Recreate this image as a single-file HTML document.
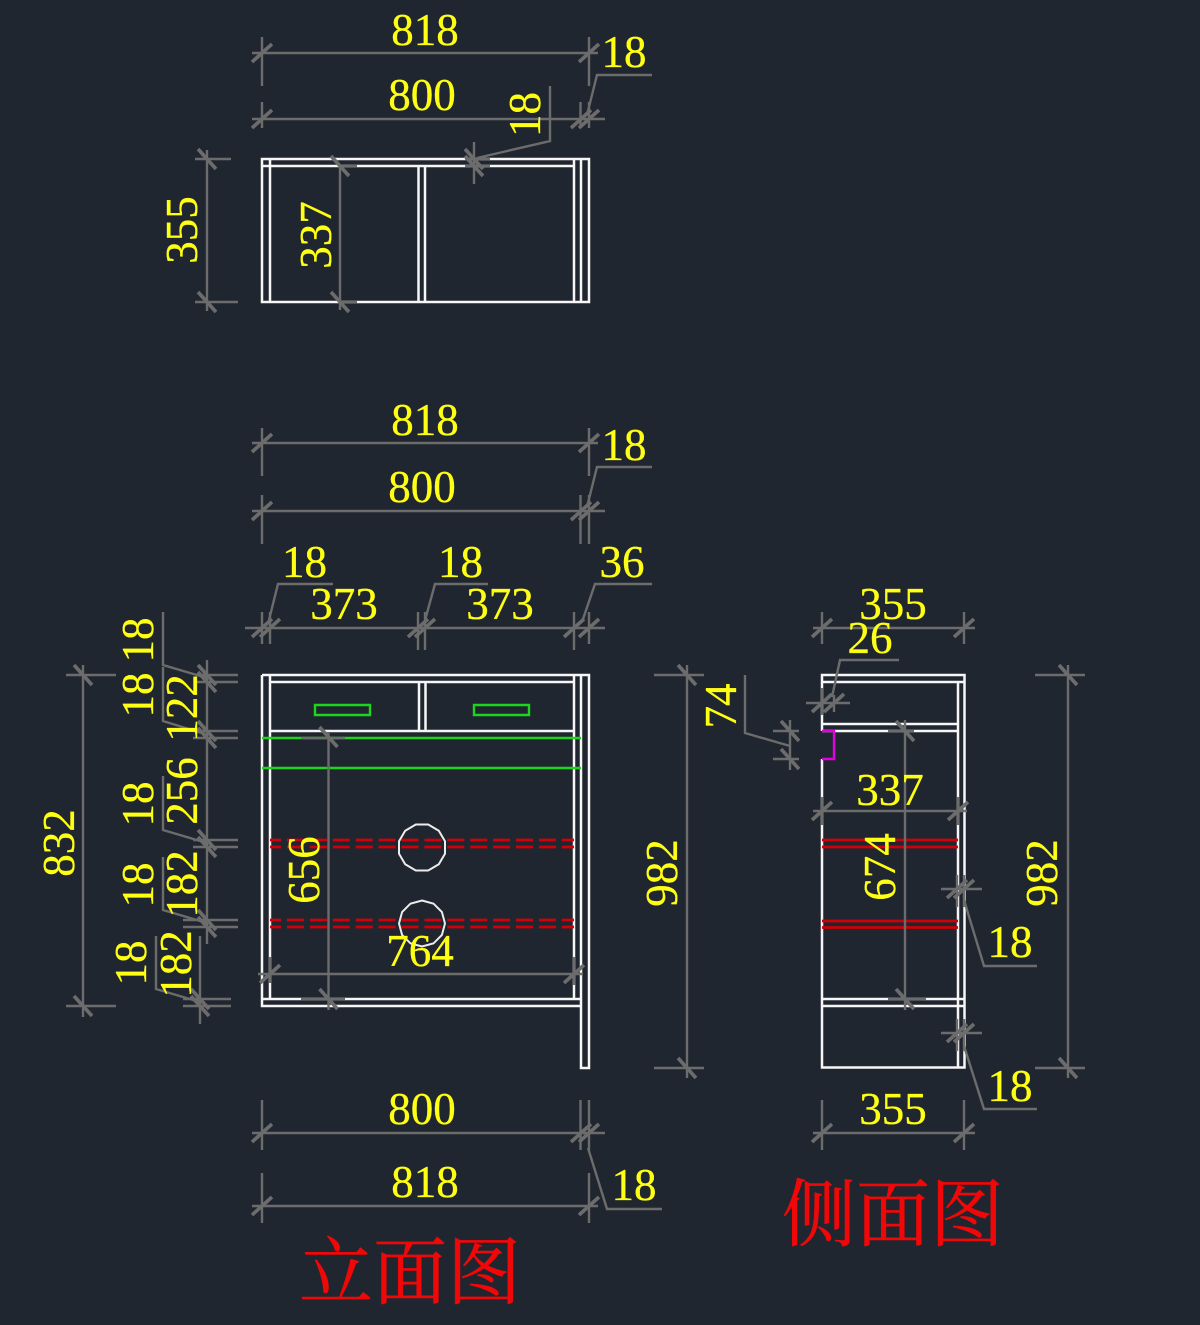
<!DOCTYPE html>
<html lang="zh">
<head>
<meta charset="utf-8">
<title>Cabinet drawing</title>
<style>
html,body{margin:0;padding:0;background:#20262f;}
svg{display:block;}
.w{stroke:#f6f6f6;stroke-width:2.5;fill:none;}
.o{stroke:#ececec;stroke-width:2;fill:none;}
.g{stroke:#6c6c6c;stroke-width:2.4;fill:none;}
.t{stroke:#6c6c6c;stroke-width:3.6;fill:none;}
.r{stroke:#d00008;stroke-width:2.8;fill:none;}
.d{stroke:#d00008;stroke-width:2.8;fill:none;stroke-dasharray:17 5.9;stroke-dashoffset:5.9;}
.n{stroke:#1ed51e;stroke-width:2.4;fill:none;}
.m{stroke:#e000e0;stroke-width:2.4;fill:none;}
text{font-family:"Liberation Serif",serif;font-size:45px;fill:#ffff14;stroke:#ffff14;stroke-width:.3;text-anchor:middle;}
text.c{font-family:"Liberation Serif","Noto Serif CJK SC",serif;font-size:74px;fill:#f00808;stroke:#f00808;stroke-width:.5;}
</style>
</head>
<body>
<svg xmlns="http://www.w3.org/2000/svg" width="1200" height="1325" viewBox="0 0 1200 1325">
<rect width="1200" height="1325" fill="#20262f"/>

<!-- TOP VIEW -->
<path class="w" d="M262 159H589V302H262Z M262 166H574 M270 159V302 M418.500 166V302 M425 166V302 M574 159V302 M581 159V302"/>

<!-- FRONT VIEW -->
<path class="w" d="M262 675H589V1068H581V675 M262 675V1006H581 M262 999H581 M270 675V999 M574 675V999 M270 682H574 M270 731H574 M419 682V731 M425.500 682V731"/>
<path class="n" d="M315 705H370V715H315Z M474 705H529V715H474Z M262 738H581 M262 768H581"/>
<path class="d" d="M270 840H574 M270 847H574 M270 920H574 M270 927H574"/>
<path class="o" d="M428.200 824.500L438.800 830.700L445 841.300V853.700L438.800 864.300L428.200 870.500H415.800L405.200 864.300L399 853.700V841.300L405.200 830.700L415.800 824.500Z"/>
<path class="o" d="M422 900.500L433.500 903.600L441.900 912L445 923.500L441.900 935L433.500 943.400L422 946.500L410.500 943.400L402.100 935L399 923.500L402.100 912L410.500 903.600Z"/>

<!-- SIDE VIEW -->
<path class="w" d="M822 731V675H964.500V1067.500H822V759 M822 682H964.500 M958 682V1067.500 M822 724H958 M822 731H958 M822 999H964.500 M822 1006H964.500"/>
<path class="m" d="M822 731H834V759H822"/>
<path class="r" d="M822 840H958 M822 847H958 M822 921H958 M822 927.500H958"/>

<!-- DIMENSION LINES -->
<path class="g" d="
M252 53H598 M262 37V86 M589 37V86
M252 119H605 M262 102V128 M580.500 102V128 M589 102V128
M587 115L597 75H652
M477 158L550 141V86
M474 142V184 M465 159H490 M465 166H490
M340 166V310 M340 166H357 M340 302H357
M207 150V311 M195 159H231 M195 302H238

M252 443H598 M262 428V476 M589 428V476
M252 511H605 M262 495V544 M580.500 495V544 M589 495V544
M587 507L597 467H652
M245 628H605 M262 612V644 M270 612V644 M418 612V650 M425 612V650 M574 612V650 M589 612V644
M268 624L278 584H333
M424 624L435 584H488
M582 622L595 584H652

M83 665V1017 M66 675H116 M66 1006H116
M207 660V944 M200 936V1024
M195 675H238 M195 682H238 M193 731H238 M193 738H238 M193 840H238 M193 847H238 M183 920H238 M183 927H238 M183 999H231 M183 1006H231
M163 612V665L207 678
M163 667V721L205 734
M163 776V830L207 843
M163 857V910L207 923
M156 936V989L200 1002
M328.500 733V1010 M301 738H345 M301 999H345
M258 974H583 M270 957V983 M574 957V985

M687 665V1078 M654 675H704 M654 1068H704
M790 720V770 M773 731H799 M773 759H799
M745 675V733L790 746

M813 628H975 M822 612V644 M964 612V644
M806 703H850 M822 688V715 M834 695V712
M832 697L840 660H899
M813 811H967 M822 797V825 M958 797V825
M905 720V1010 M888 731H914 M888 999H926
M941 889H982 M957 875V907 M964 875V907
M964 900L984 966H1037
M941 1033H982 M957 1019V1051 M964 1019V1051
M964 1046L984 1109H1037
M813 1133H975 M822 1100V1150 M964 1100V1150
M1068 665V1078 M1035 675H1085 M1035 1068H1085

M252 1133H605 M262 1100V1150 M580.500 1100V1150 M589 1100V1150
M252 1206H598 M262 1173V1223 M589 1173V1223
M588 1148L607 1209H662
"/>

<!-- TICKS -->
<path class="t" d="
M252 62l20-18 M579 62l20-18
M252 128l20-18 M571 128l20-18 M579 128l20-18
M465 149l18 20 M465 156l18 20
M331 156l18 20 M331 292l18 20
M198 149l18 20 M198 292l18 20

M252 452l20-18 M579 452l20-18
M252 520l20-18 M571 520l20-18 M579 520l20-18
M252 637l20-18 M260 637l20-18 M408 637l20-18 M415 637l20-18 M564 637l20-18 M579 637l20-18

M74 665l18 20 M74 996l18 20
M198 665l18 20 M198 672l18 20 M198 721l18 20 M198 728l18 20 M198 830l18 20 M198 837l18 20 M198 910l18 20 M198 917l18 20 M191 989l18 20 M191 996l18 20
M319.500 727l18 20 M319.500 989l18 20
M260 983l20-18 M564 983l20-18

M678 665l18 20 M678 1058l18 20
M781 721l18 20 M781 749l18 20

M812 637l20-18 M954 637l20-18
M812 712l20-18 M824 712l20-18
M812 820l20-18 M948 820l20-18
M896 721l18 20 M896 989l18 20
M947 898l20-18 M954 898l20-18
M947 1042l20-18 M954 1042l20-18
M812 1142l20-18 M954 1142l20-18
M1059 665l18 20 M1059 1058l18 20

M252 1142l20-18 M571 1142l20-18 M579 1142l20-18
M252 1215l20-18 M579 1215l20-18
"/>

<!-- LABELS -->
<text x="425" y="45">818</text>
<text x="624" y="67">18</text>
<text x="422" y="110">800</text>
<text transform="translate(540,114.500) rotate(-90)">18</text>
<text transform="translate(331,235) rotate(-90)">337</text>
<text transform="translate(197,230) rotate(-90)">355</text>

<text x="425" y="435">818</text>
<text x="624" y="460">18</text>
<text x="422" y="502">800</text>
<text x="304.500" y="577">18</text>
<text x="344" y="619">373</text>
<text x="460.500" y="577">18</text>
<text x="500" y="619">373</text>
<text x="622" y="577">36</text>

<text transform="translate(153,640) rotate(-90)">18</text>
<text transform="translate(153,695) rotate(-90)">18</text>
<text transform="translate(197,708) rotate(-90)">122</text>
<text transform="translate(74,843) rotate(-90)">832</text>
<text transform="translate(153,804) rotate(-90)">18</text>
<text transform="translate(197,791) rotate(-90)">256</text>
<text transform="translate(153,885) rotate(-90)">18</text>
<text transform="translate(197,884) rotate(-90)">182</text>
<text transform="translate(146,963) rotate(-90)">18</text>
<text transform="translate(191,964) rotate(-90)">182</text>
<text transform="translate(319,870) rotate(-90)">656</text>
<text x="420" y="966">764</text>

<text transform="translate(677,873) rotate(-90)">982</text>
<text transform="translate(736,706) rotate(-90)">74</text>
<text x="893" y="619">355</text>
<text x="870" y="653">26</text>
<text x="890" y="805">337</text>
<text transform="translate(895,867) rotate(-90)">674</text>
<text transform="translate(1057,873) rotate(-90)">982</text>
<text x="1010" y="957">18</text>
<text x="1010" y="1101">18</text>
<text x="893" y="1124">355</text>

<text x="422" y="1124">800</text>
<text x="425" y="1197">818</text>
<text x="634" y="1200">18</text>

<text class="c" x="410" y="1298">立面图</text>
<text class="c" x="893" y="1240">侧面图</text>
</svg>
</body>
</html>
